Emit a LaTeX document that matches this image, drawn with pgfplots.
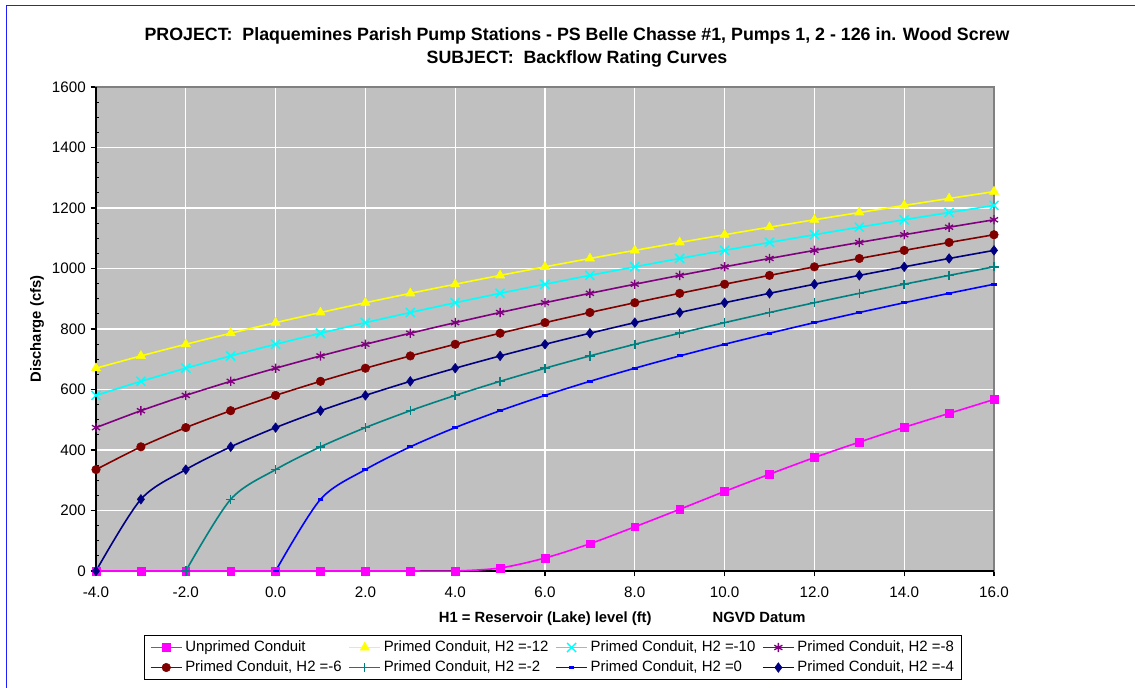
\documentclass[border=0pt]{standalone}
\usepackage{pgfplots}
\pgfplotsset{compat=1.18}
\usepackage{fontspec}
\setmainfont{Liberation Sans}
\definecolor{cMag}{HTML}{FF00FF}
\definecolor{cYel}{HTML}{FFFF00}
\definecolor{cCya}{HTML}{00FFFF}
\definecolor{cPur}{HTML}{800080}
\definecolor{cRed}{HTML}{800000}
\definecolor{cTea}{HTML}{008080}
\definecolor{cBlu}{HTML}{0000FF}
\definecolor{cNav}{HTML}{000080}
\definecolor{plotgray}{HTML}{C0C0C0}
\definecolor{framegray}{HTML}{808080}
\newcommand{\tickfont}{\fontsize{11.4}{13.7}\selectfont}
\newcommand{\labfont}{\fontsize{11.1}{13.3}\selectfont\bfseries}
\newcommand{\titfont}{\fontsize{13.35}{16}\selectfont\bfseries}
\begin{document}
\begin{tikzpicture}
\path[use as bounding box] (0pt,0pt) rectangle (851.25pt,516pt);
\draw[line width=1.1pt, color={rgb,255:red,30;green,30;blue,255}] (4.9pt,0pt) -- (4.9pt,511.9pt) -- (851.25pt,511.9pt);
\node[anchor=base, font=\titfont] at (432.75pt,485.25pt) {PROJECT:\ \ Plaquemines Parish Pump Stations - PS Belle Chasse \#1, Pumps 1, 2 - 126 in. Wood Screw};
\node[anchor=base, font=\titfont] at (432.75pt,468pt) {SUBJECT:\ \ Backflow Rating Curves};
\begin{axis}[
  at={(72pt,87.75pt)}, anchor=south west,
  scale only axis, width=673.5pt, height=363pt,
  xmin=-4, xmax=16, ymin=0, ymax=1600,
  clip=false,
  axis background/.style={fill=plotgray},
  axis line style={draw=framegray, line width=0.8pt},
  xtick={-4,-2,...,16},
  xticklabels={-4.0,-2.0,0.0,2.0,4.0,6.0,8.0,10.0,12.0,14.0,16.0},
  ytick={0,200,...,1600},
  yticklabels={0,200,400,600,800,1000,1200,1400,1600},
  minor y tick num=3,
  xtick pos=bottom, ytick pos=left,
  tick align=outside,
  major tick length=4pt,
  minor tick length=2.6pt,
  tick style={black, line width=0.8pt},
  minor tick style={xshift=2.6pt},
  xmajorgrids, ymajorgrids,
  major grid style={white, line width=1pt},
  ticklabel style={font=\tickfont},
  yticklabel style={inner sep=0pt, xshift=-3.5pt},
  xticklabel style={inner sep=0pt, yshift=-8pt},
  xlabel={H1 = Reservoir (Lake) level (ft)\hspace{45.75pt}NGVD Datum},
  xlabel style={font=\labfont, at={(axis description cs:0.586,-0.099)}, anchor=center},
  ylabel={Discharge (cfs)},
  ylabel style={font=\labfont, at={(axis description cs:-0.0657,0.5)}, anchor=center},
  legend columns=4,
  legend cell align=left,
  legend style={at={(axis description cs:0.0535,-0.1322)}, anchor=north west,
    draw=black, fill=white, line width=0.8pt, font=\fontsize{11.2}{13}\selectfont,
    inner xsep=4pt, inner ysep=2.5pt, row sep=2pt,
    nodes={inner ysep=1.2pt, text height=8.2pt, text depth=2.4pt},
    /tikz/every even column/.append style={column sep=3pt}},
  legend image code/.code={\draw[mark repeat=2,mark phase=2,#1] plot coordinates {(0cm,0cm) (0.41cm,0cm) (0.82cm,0cm)};},
  every axis plot/.append style={line width=1.2pt, smooth, tension=0.5},
]
\draw[black, line width=0.8pt] (rel axis cs:0,1) -- (rel axis cs:0,0) -- (rel axis cs:1,0);
% Unprimed conduit
\addplot[color=cMag, mark=square*, mark size=2.9pt, mark options={solid, line width=0.4pt}] coordinates {
(-4,0)(-3,0)(-2,0)(-1,0)(0,0)(1,0)(2,0)(3,0)(4,0)(5,10)(6,43)(7,90)(8,146)(9,204)(10,263)(11,320)(12,375)(13,426)(14,475)(15,521)(16,567)};
\addlegendentry{Unprimed Conduit}
% H2=-12
\addplot[color=cYel, mark=triangle*, mark size=4pt, mark options={solid, line width=0.4pt}] coordinates {
(-4,670.3)(-3,711.0)(-2,749.5)(-1,786.0)(0,821.0)(1,854.5)(2,886.8)(3,917.9)(4,948.0)(5,977.2)(6,1005.5)(7,1033.1)(8,1059.9)(9,1086.1)(10,1111.6)(11,1136.6)(12,1161.1)(13,1185.0)(14,1208.5)(15,1231.5)(16,1254.1)};
\addlegendentry{Primed Conduit, H2 =-12}
% H2=-10
\addplot[color=cCya, mark=x, mark size=4.8pt, mark options={solid, line width=1.1pt}] coordinates {
(-4,580.5)(-3,627.0)(-2,670.3)(-1,711.0)(0,749.5)(1,786.0)(2,821.0)(3,854.5)(4,886.8)(5,917.9)(6,948.0)(7,977.2)(8,1005.5)(9,1033.1)(10,1059.9)(11,1086.1)(12,1111.6)(13,1136.6)(14,1161.1)(15,1185.0)(16,1208.5)};
\addlegendentry{Primed Conduit, H2 =-10}
% H2=-8
\addplot[color=cPur, mark=asterisk, mark size=3.5pt, mark options={solid, line width=1pt}] coordinates {
(-4,474.0)(-3,529.9)(-2,580.5)(-1,627.0)(0,670.3)(1,711.0)(2,749.5)(3,786.0)(4,821.0)(5,854.5)(6,886.8)(7,917.9)(8,948.0)(9,977.2)(10,1005.5)(11,1033.1)(12,1059.9)(13,1086.1)(14,1111.6)(15,1136.6)(16,1161.1)};
\addlegendentry{Primed Conduit, H2 =-8}
% H2=-6
\addplot[color=cRed, mark=*, mark size=3.2pt, mark options={solid, line width=0.4pt}] coordinates {
(-4,335.2)(-3,410.5)(-2,474.0)(-1,529.9)(0,580.5)(1,627.0)(2,670.3)(3,711.0)(4,749.5)(5,786.0)(6,821.0)(7,854.5)(8,886.8)(9,917.9)(10,948.0)(11,977.2)(12,1005.5)(13,1033.1)(14,1059.9)(15,1086.1)(16,1111.6)};
\addlegendentry{Primed Conduit, H2 =-6}
% H2=-2
\addplot[color=cTea, mark=+, mark size=3.5pt, mark options={solid, line width=1.1pt}] coordinates {
(-2,0)(-1,237.0)(0,335.2)(1,410.5)(2,474.0)(3,529.9)(4,580.5)(5,627.0)(6,670.3)(7,711.0)(8,749.5)(9,786.0)(10,821.0)(11,854.5)(12,886.8)(13,917.9)(14,948.0)(15,977.2)(16,1005.5)};
\addlegendentry{Primed Conduit, H2 =-2}
% H2=0
\addplot[color=cBlu, mark=-, mark size=2.2pt, mark options={solid, line width=2.2pt}] coordinates {
(0,0)(1,237.0)(2,335.2)(3,410.5)(4,474.0)(5,529.9)(6,580.5)(7,627.0)(8,670.3)(9,711.0)(10,749.5)(11,786.0)(12,821.0)(13,854.5)(14,886.8)(15,917.9)(16,948.0)};
\addlegendentry{Primed Conduit, H2 =0}
% H2=-4
\addplot[color=cNav, mark=diamond*, mark size=3.6pt, mark options={solid, line width=0.4pt}] coordinates {
(-4,0)(-3,237.0)(-2,335.2)(-1,410.5)(0,474.0)(1,529.9)(2,580.5)(3,627.0)(4,670.3)(5,711.0)(6,749.5)(7,786.0)(8,821.0)(9,854.5)(10,886.8)(11,917.9)(12,948.0)(13,977.2)(14,1005.5)(15,1033.1)(16,1059.9)};
\addlegendentry{Primed Conduit, H2 =-4}
\end{axis}
\end{tikzpicture}
\end{document}
